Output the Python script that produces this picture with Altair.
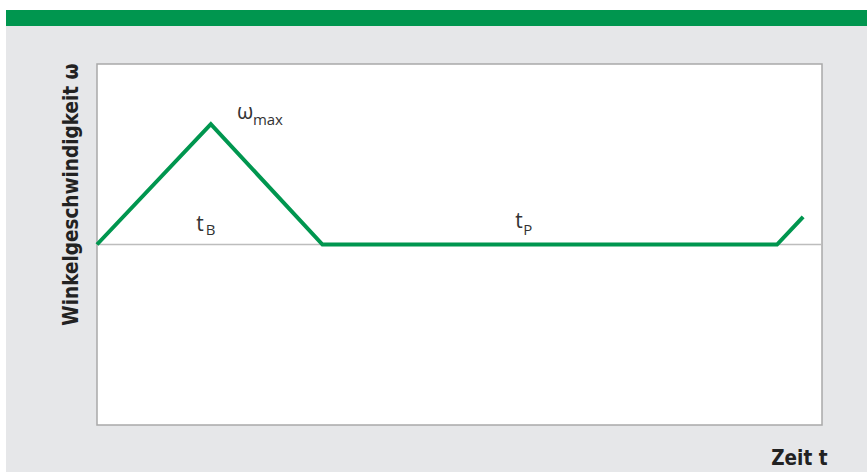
import altair as alt
import pandas as pd

# Angular velocity profile over time (arbitrary units)
t_vals = [0, 15.7, 31.1, 93.8, 97.4]
w_vals = [0, 1.0, 0, 0, 0.23]

# Symbol labels and their subscripts
sym_text = ["ω", "t", "t"]
sym_t = [19.3, 13.7, 57.7]
sym_w = [1.047, 0.116, 0.133]
sub_text = ["max", "B", "P"]
sub_t = [21.5, 15.0, 58.8]
sub_w = [0.989, 0.075, 0.075]

W, H = 725, 361
GREEN = "#00964f"
BG = "#e6e7e9"
LABEL_FONT = "Open Sans"
TITLE_FONT = "DejaVu Sans Condensed, sans-serif"

profile = pd.DataFrame({"t": t_vals, "w": w_vals})
syms = pd.DataFrame({"t": sym_t, "w": sym_w, "txt": sym_text})
subs = pd.DataFrame({"t": sub_t, "w": sub_w, "txt": sub_text})

xs = alt.Scale(domain=[0, 100], nice=False, zero=False)
ys = alt.Scale(domain=[-1.5, 1.5], nice=False, zero=False)

x_axis = alt.Axis(
    title="Zeit t", labels=False, ticks=False, domain=False, grid=False,
    titleX=730, titleY=39, titleAlign="right", titleBaseline="alphabetic",
    titleFont=TITLE_FONT, titleFontSize=20.5, titleFontWeight="bold", titleColor="#222222",
)
y_axis = alt.Axis(
    title="Winkelgeschwindigkeit ω", labels=False, ticks=False, domain=False, grid=False,
    titleAngle=270, titleX=-20, titleY=-1, titleAlign="right", titleBaseline="alphabetic",
    titleFont=TITLE_FONT, titleFontSize=20.5, titleFontWeight="bold", titleColor="#222222",
)

line = alt.Chart(profile).mark_line(color=GREEN, strokeWidth=4, strokeJoin="miter").encode(
    x=alt.X("t:Q", scale=xs, axis=x_axis),
    y=alt.Y("w:Q", scale=ys, axis=y_axis),
)

zero_rule = alt.Chart(pd.DataFrame({"w": [0]})).mark_rule(color="#bdbdbd", strokeWidth=1.5).encode(
    y=alt.Y("w:Q", scale=ys)
)

sym_layer = alt.Chart(syms).mark_text(
    align="left", baseline="alphabetic", font=LABEL_FONT, fontSize=21, color="#333333"
).encode(x=alt.X("t:Q", scale=xs), y=alt.Y("w:Q", scale=ys), text="txt:N")

sub_layer = alt.Chart(subs).mark_text(
    align="left", baseline="alphabetic", font=LABEL_FONT, fontSize=15, color="#333333"
).encode(x=alt.X("t:Q", scale=xs), y=alt.Y("w:Q", scale=ys), text="txt:N")

# Page decoration: green header band and white margins around the grey panel
band = alt.Chart(pd.DataFrame({"k": [0]})).mark_rect(color=GREEN).encode(
    x=alt.value(-91), x2=alt.value(770), y=alt.value(-54), y2=alt.value(-38)
)
top_strip = alt.Chart(pd.DataFrame({"k": [0]})).mark_rect(color="white").encode(
    x=alt.value(-97), x2=alt.value(770), y=alt.value(-64), y2=alt.value(-54)
)
left_strip = alt.Chart(pd.DataFrame({"k": [0]})).mark_rect(color="white").encode(
    x=alt.value(-97), x2=alt.value(-91), y=alt.value(-64), y2=alt.value(408)
)

chart = alt.layer(
    band, top_strip, left_strip, zero_rule, line, sym_layer, sub_layer
).properties(
    width=W, height=H,
    autosize=alt.AutoSizeParams(type="none"),
    padding={"left": 97, "top": 64, "right": 45, "bottom": 47},
    background=BG,
).configure_view(
    fill="white", stroke="#a9a9a9", strokeWidth=1.5
)

chart.save("out.html", embed_options={"renderer": "svg", "actions": False})
